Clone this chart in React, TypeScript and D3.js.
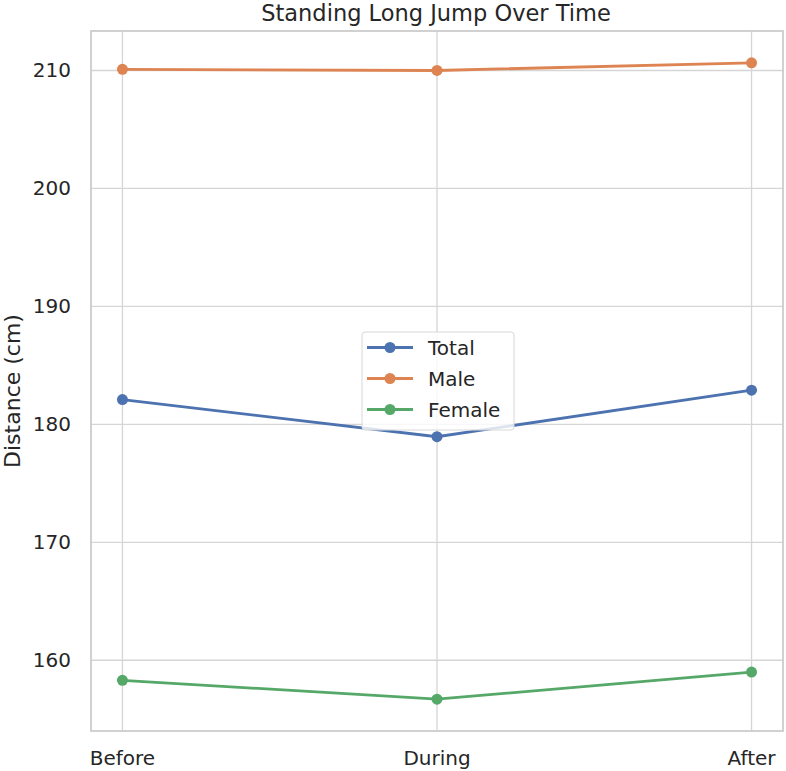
import React, { useEffect, useRef } from 'react';
import * as d3 from 'd3';

const phases = ['Before', 'During', 'After'];
const seriesNames = ['Total', 'Male', 'Female'];
const totalValues = [182.1, 178.95, 182.9];
const maleValues = [210.1, 210.0, 210.65];
const femaleValues = [158.3, 156.7, 159.0];
const yTicks = [160, 170, 180, 190, 200, 210];
const colors = ['#4c72b0', '#dd8452', '#55a868'];

const Chart = () => {
    const ref = useRef<SVGSVGElement | null>(null);

    useEffect(() => {
        const node = ref.current;
        if (!node) return;
        const width = 786;
        const height = 771;
        const margin = { top: 31, right: 3, bottom: 40, left: 91 };
        const innerW = width - margin.left - margin.right;
        const innerH = height - margin.top - margin.bottom;

        const svg = d3.select(node);
        svg.selectAll('*').remove();
        svg.attr('width', width).attr('height', height)
            .style('font-family', '"DejaVu Sans", sans-serif');

        const g = svg.append('g').attr('transform', `translate(${margin.left},${margin.top})`);

        const allValues = [...totalValues, ...maleValues, ...femaleValues];
        const lo = d3.min(allValues) as number;
        const hi = d3.max(allValues) as number;
        const pad = (hi - lo) * 0.05;

        const xScale = d3.scaleLinear().domain([-0.1, phases.length - 1 + 0.1]).range([0, innerW]);
        const yScale = d3.scaleLinear().domain([lo - pad, hi + pad]).range([innerH, 0]);

        // grid
        g.append('g').selectAll('line.hg').data(yTicks).enter().append('line')
            .attr('x1', 0).attr('x2', innerW)
            .attr('y1', d => yScale(d)).attr('y2', d => yScale(d))
            .attr('stroke', '#d5d5d5').attr('stroke-width', 1.3);
        g.append('g').selectAll('line.vg').data(phases).enter().append('line')
            .attr('y1', 0).attr('y2', innerH)
            .attr('x1', (d, i) => xScale(i)).attr('x2', (d, i) => xScale(i))
            .attr('stroke', '#d5d5d5').attr('stroke-width', 1.3);

        // frame
        g.append('rect').attr('width', innerW).attr('height', innerH)
            .attr('fill', 'none').attr('stroke', '#cccccc').attr('stroke-width', 1.8);

        // tick labels
        g.append('g').selectAll('text').data(yTicks).enter().append('text')
            .attr('x', -20).attr('y', d => yScale(d)).attr('dy', '0.35em')
            .attr('text-anchor', 'end').attr('font-size', 20).attr('fill', '#262626')
            .text(d => d);
        g.append('g').selectAll('text').data(phases).enter().append('text')
            .attr('x', (d, i) => xScale(i)).attr('y', innerH + 34)
            .attr('text-anchor', 'middle').attr('font-size', 20).attr('fill', '#262626')
            .text(d => d);

        // title & axis label
        svg.append('text').attr('x', margin.left + innerW / 2 - 1).attr('y', 21)
            .attr('text-anchor', 'middle').attr('font-size', 22.5).attr('fill', '#262626')
            .text('Standing Long Jump Over Time');
        svg.append('text')
            .attr('transform', `translate(20,391) rotate(-90)`)
            .attr('text-anchor', 'middle').attr('font-size', 22).attr('fill', '#262626')
            .text('Distance (cm)');

        const data = [totalValues, maleValues, femaleValues];
        const line = d3.line<number>().x((d, i) => xScale(i)).y(d => yScale(d));

        data.forEach((vals, k) => {
            g.append('path').datum(vals).attr('d', line)
                .attr('fill', 'none').attr('stroke', colors[k]).attr('stroke-width', 2.8);
            g.append('g').selectAll('circle').data(vals).enter().append('circle')
                .attr('cx', (d, i) => xScale(i)).attr('cy', d => yScale(d))
                .attr('r', 5.5).attr('fill', colors[k]);
        });

        // legend
        const lg = svg.append('g').attr('transform', 'translate(362,332)');
        lg.append('rect').attr('width', 152).attr('height', 98).attr('rx', 3)
            .attr('fill', 'white').attr('fill-opacity', 0.8)
            .attr('stroke', '#d8d8d8').attr('stroke-width', 1);
        seriesNames.forEach((name, k) => {
            const y = 15.5 + k * 31;
            lg.append('line').attr('x1', 5).attr('x2', 51).attr('y1', y).attr('y2', y)
                .attr('stroke', colors[k]).attr('stroke-width', 2.8);
            lg.append('circle').attr('cx', 28).attr('cy', y).attr('r', 5.5).attr('fill', colors[k]);
            lg.append('text').attr('x', 66).attr('y', y).attr('dy', '0.35em')
                .attr('font-size', 20).attr('fill', '#262626').text(name);
        });
    }, []);

    return <svg ref={ref} />;
};

export default function App() {
    return (
        <div style={{ position: 'absolute', left: 0, top: 0 }}>
            <Chart />
        </div>
    );
}
